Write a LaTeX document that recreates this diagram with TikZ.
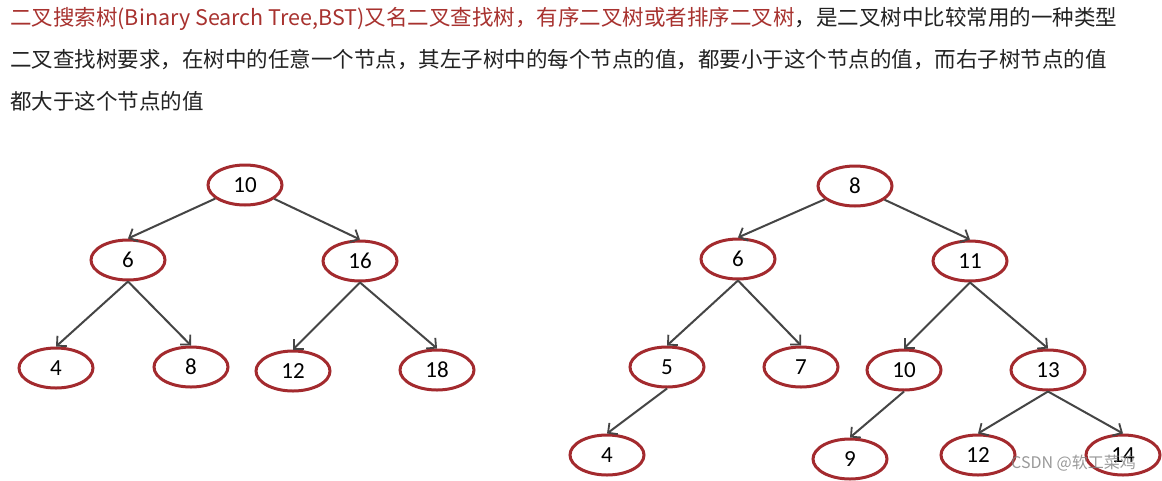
\documentclass[tikz,border=0pt]{standalone}
\usepackage{fontspec}
\setmainfont{Carlito}
\newfontfamily\cjk{Noto Sans CJK SC}
\usetikzlibrary{shapes.geometric,arrows.meta}
\definecolor{nodered}{HTML}{A32A2E}
\definecolor{txtred}{HTML}{A8322F}
\definecolor{txtdark}{HTML}{222222}
\definecolor{edgegray}{HTML}{454545}
\tikzset{
  bst/.style={ellipse,draw=nodered,line width=3pt,minimum width=74pt,minimum height=40pt,inner sep=0pt,
     font=\fontsize{23}{23}\selectfont,text=black},
  arr/.style={draw=edgegray,line width=2pt,-{Straight Barb[length=7pt,width=14pt,line width=1.8pt]}},
  line/.style={anchor=west,font=\cjk\fontsize{21.5}{22}\selectfont,text=txtdark,inner sep=0pt},
}
\begin{document}
\begin{tikzpicture}[x=1pt,y=-1pt]
\path[use as bounding box,fill=white] (0,0) rectangle (1162,480);
% text
\node[line] (t1) at (10,19) {\textcolor{txtred}{二叉搜索树(Binary Search Tree,BST)又名二叉查找树，有序二叉树或者排序二叉树}，是二叉树中比较常用的一种类型};
\node[line] (t2) at (10,60) {二叉查找树要求，在树中的任意一个节点，其左子树中的每个节点的值，都要小于这个节点的值，而右子树节点的值};
\node[line] (t3) at (10,101) {都大于这个节点的值};
% left tree
\node[bst] (a10) at (245,185) {10};
\node[bst] (a6) at (128,260) {6};
\node[bst] (a16) at (360,261) {16};
\node[bst] (a4) at (56,368) {4};
\node[bst] (a8) at (191,367) {8};
\node[bst] (a12) at (293,371) {12};
\node[bst] (a18) at (437,370) {18};
\draw[arr] (a10) -- (a6.north);
\draw[arr] (a10) -- (a16.north);
\draw[arr] (a6.south) -- (a4.north);
\draw[arr] (a6.south) -- (a8.north);
\draw[arr] (a16.south) -- (a12.north);
\draw[arr] (a16.south) -- (a18.north);
% right tree
\node[bst] (b8) at (855,186) {8};
\node[bst] (b6) at (738,259) {6};
\node[bst] (b11) at (970,261) {11};
\node[bst] (b5) at (667,367) {5};
\node[bst] (b7) at (801,367) {7};
\node[bst] (b10) at (904,370) {10};
\node[bst] (b13) at (1048,370) {13};
\node[bst] (b4) at (607,455) {4};
\node[bst] (b9) at (850,459) {9};
\node[bst] (b12) at (978,455) {12};
\node[bst] (b14) at (1123,455) {14};
\draw[arr] (b8) -- (b6.north);
\draw[arr] (b8) -- (b11.north);
\draw[arr] (b6.south) -- (b5.north);
\draw[arr] (b6.south) -- (b7.north);
\draw[arr] (b11.south) -- (b10.north);
\draw[arr] (b11.south) -- (b13.north);
\draw[arr] (b5.south) -- (b4.north);
\draw[arr] (b10.south) -- (b9.north);
\draw[arr] (b13.south) -- (b12.north);
\draw[arr] (b13.south) -- (b14.north);
% watermark
\node[anchor=west,inner sep=0pt,font=\cjk\fontsize{16}{16}\selectfont,text=gray,opacity=0.8] (wm) at (1011,463) {CSDN @软工菜鸡};
\end{tikzpicture}
\end{document}
